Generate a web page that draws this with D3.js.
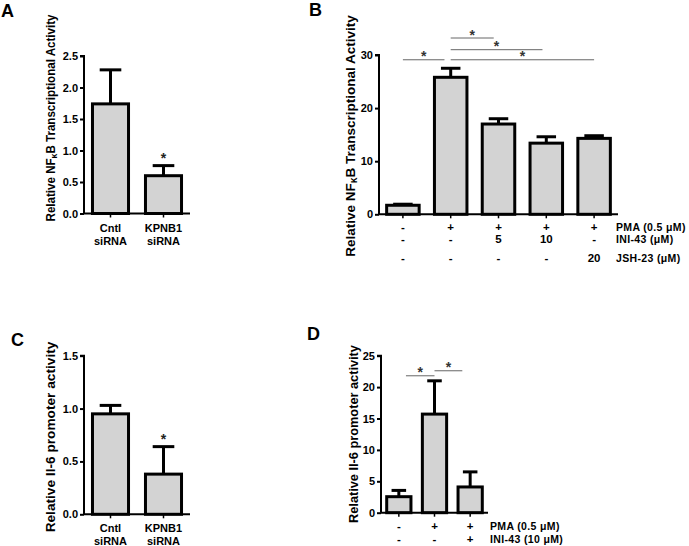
<!DOCTYPE html>
<html><head><meta charset="utf-8">
<script src="https://cdn.jsdelivr.net/npm/d3@7"></script>
<style>
body{margin:0;background:#fff;}
svg{display:block;font-family:"Liberation Sans",Arial,sans-serif;font-weight:bold;}
</style></head>
<body>
<svg id="c" width="689" height="546"></svg>
<script>
// ---- Panel A data ----
const catsA = [["Cntl","siRNA"],["KPNB1","siRNA"]];
const meanA = [1.74, 0.60];
const errA  = [0.54, 0.16];
const starA = ["", "*"];
const ticksA = [0, 0.5, 1.0, 1.5, 2.0, 2.5];

// ---- Panel B data ----
const meanB = [1.7, 25.8, 17.0, 13.4, 14.3];
const errB  = [0.2, 1.7, 1.0, 1.2, 0.5];
const ticksB = [0, 10, 20, 30];
const rowNamesB = ["PMA (0.5 \u03bcM)", "INI-43 (\u03bcM)", "JSH-23 (\u03bcM)"];
const rowsB = [
  ["-", "+", "+", "+", "+"],
  ["-", "-", "5", "10", "-"],
  ["-", "-", "-", "-", "20"]
];
// comparisons: a/b in category units (bar index), level in data units
const sigB = [ {a:0, b:0.87, level:29.1}, {a:1, b:1.9, level:33.2}, {a:1, b:2.92, level:31.0}, {a:1, b:4, level:29.1} ];

// ---- Panel C data ----
const catsC = [["Cntl","siRNA"],["KPNB1","siRNA"]];
const meanC = [0.95, 0.38];
const errC  = [0.08, 0.26];
const starC = ["", "*"];
const ticksC = [0, 0.5, 1.0, 1.5];

// ---- Panel D data ----
const meanD = [2.55, 15.7, 4.1];
const errD  = [1.0, 5.3, 2.4];
const ticksD = [0, 5, 10, 15, 20, 25];
const rowNamesD = ["PMA (0.5 \u03bcM)", "INI-43 (10 \u03bcM)"];
const rowsD = [
  ["-", "+", "+"],
  ["-", "-", "+"]
];
const sigD = [ {a:0.2, b:1, level:21.8}, {a:1, b:1.78, level:22.6} ];

const svg = d3.select("#c");
const FILL = "#d3d3d3";

function panel(o){
  const g = svg.append("g");
  const n = o.mean.length;
  const x = d3.scaleBand().domain(d3.range(n)).range([o.x0, o.x1]).paddingInner(0.32).paddingOuter(0.16);
  const y = d3.scaleLinear().domain([0, o.ymax]).range([o.yb, o.yt]);
  const bw = x.bandwidth();
  const cx = i => x(i) + bw/2;

  // error bars (upper)
  const eg = g.append("g");
  eg.selectAll("line.v").data(o.mean).join("line")
    .attr("x1",(d,i)=>cx(i)).attr("x2",(d,i)=>cx(i))
    .attr("y1",d=>y(d)).attr("y2",(d,i)=>y(d+o.err[i]))
    .attr("stroke","#000").attr("stroke-width",3);
  eg.selectAll("line.c").data(o.mean).join("line")
    .attr("x1",(d,i)=>cx(i)-bw*0.3).attr("x2",(d,i)=>cx(i)+bw*0.3)
    .attr("y1",(d,i)=>y(d+o.err[i])).attr("y2",(d,i)=>y(d+o.err[i]))
    .attr("stroke","#000").attr("stroke-width",3);

  // bars
  g.selectAll("rect").data(o.mean).join("rect")
    .attr("x",(d,i)=>x(i)).attr("width",bw)
    .attr("y",d=>y(d)).attr("height",d=>o.yb-y(d))
    .attr("fill",FILL).attr("stroke","#000").attr("stroke-width",3);

  // y axis
  const ya = g.append("g").attr("transform",`translate(${o.x0},0)`)
    .call(d3.axisLeft(y).tickValues(o.ticks).tickSize(4).tickPadding(2).tickFormat(o.fmt));
  ya.select(".domain").attr("stroke-width",2).attr("d",`M-4,${y(o.ymax)}H0V${o.yb}`);
  ya.selectAll(".tick line").attr("stroke-width",2);
  ya.selectAll(".tick text").attr("font-size",o.tickFs).attr("font-family","inherit").attr("font-weight","bold").attr("fill","#000");

  // x axis
  const xa = g.append("g").attr("transform",`translate(0,${o.yb})`)
    .call(d3.axisBottom(x).tickSize(4).tickFormat(""));
  xa.select(".domain").attr("stroke-width",2).attr("d",`M${o.x0},0H${o.x1}`);
  xa.selectAll(".tick line").attr("stroke-width",1.5);

  // x category labels
  if(o.cats){
    o.cats.forEach((lines,i)=>{
      lines.forEach((t,k)=>{
        g.append("text").attr("x",cx(i)).attr("y",o.catY[k]).attr("text-anchor","middle")
          .attr("font-size",o.catFs).text(t);
      });
    });
  }
  // stars above error bars
  if(o.stars){
    o.stars.forEach((s,i)=>{
      if(!s) return;
      g.append("text").attr("x",cx(i)).attr("y",y(o.mean[i]+o.err[i])-3)
        .attr("text-anchor","middle").attr("font-size",14).attr("fill","#222").text(s);
    });
  }
  // rows of +/- labels
  if(o.rows){
    o.rows.forEach((row,r)=>{
      row.forEach((t,i)=>{
        g.append("text").attr("x",cx(i)).attr("y",o.rowY[r]).attr("text-anchor","middle")
          .attr("font-size",o.rowFs+1).text(t);
      });
      g.append("text").attr("x",o.rowX).attr("y",o.rowY[r]).attr("font-size",o.rowFs)
        .attr("letter-spacing",0.35).text(o.rowNames[r]);
    });
  }
  // significance lines
  if(o.sig){
    const xpos = v => { const f=Math.min(Math.floor(v), n-2); return cx(f)+(cx(f+1)-cx(f))*(v-f); };
    o.sig.forEach(s=>{
      const xa1 = xpos(s.a), xb = xpos(s.b);
      const yy = y(s.level);
      g.append("line").attr("x1",xa1).attr("x2",xb).attr("y1",yy).attr("y2",yy)
        .attr("stroke","#666").attr("stroke-width",1);
      g.append("text").attr("x",(xa1+xb)/2).attr("y",yy+1.5).attr("text-anchor","middle")
        .attr("font-size",14).attr("fill","#333").text("*");
    });
  }
  // y label
  const yl = g.append("text").attr("text-anchor","middle").attr("dy","0.35em").attr("font-size",o.ylFs);
  o.ylabel.forEach(p=>{
    const ts = yl.append("tspan").text(p.t);
    if(p.sub) ts.attr("font-size","75%").attr("dy","0.25em");
    if(p.after) ts.attr("dy","-0.19em");
  });
  const L = yl.node().getComputedTextLength();
  yl.attr("transform",`translate(${o.ylx},${o.yly}) rotate(-90) scale(${o.ylLen/L},1)`);
  // panel letter
  g.append("text").attr("x",o.letter[0]).attr("y",o.letter[1]).attr("font-size",18).text(o.letter[2]);
}

const nfkb = [{t:"Relative NF"},{t:"\u03ba",sub:true},{t:"B Transcriptional Activity",after:true}];
const il6 = [{t:"Relative Il-6 promoter activity"}];

panel({mean:meanA, err:errA, ymax:2.5, ticks:ticksA, fmt:d3.format(".1f"),
  x0:84, x1:190, yb:213.5, yt:56, tickFs:11,
  cats:catsA, catY:[232,245], catFs:11, stars:starA,
  ylabel:nfkb, ylFs:13, ylx:50, yly:118, ylLen:207, letter:[1,17,"A"]});

panel({mean:meanB, err:errB, ymax:30, ticks:ticksB, fmt:d3.format("d"),
  x0:379, x1:618, yb:214.3, yt:55, tickFs:11,
  rows:rowsB, rowY:[230.5,243,261.5], rowFs:10.5, rowNames:rowNamesB, rowX:616,
  sig:sigB, ylabel:nfkb, ylFs:13.5, ylx:350, yly:136, ylLen:242, letter:[309,16,"B"]});

panel({mean:meanC, err:errC, ymax:1.5, ticks:ticksC, fmt:d3.format(".1f"),
  x0:84, x1:190, yb:514.3, yt:355.7, tickFs:11,
  cats:catsC, catY:[532,545], catFs:11, stars:starC,
  ylabel:il6, ylFs:13.5, ylx:50, yly:437, ylLen:191, letter:[11,346,"C"]});

panel({mean:meanD, err:errD, ymax:25, ticks:ticksD, fmt:d3.format("d"),
  x0:381, x1:488, yb:512.7, yt:355.7, tickFs:11,
  rows:rowsD, rowY:[530,543], rowFs:10.5, rowNames:rowNamesD, rowX:490,
  sig:sigD, ylabel:il6, ylFs:13, ylx:353, yly:434, ylLen:178, letter:[307,340,"D"]});
</script>
</body></html>
